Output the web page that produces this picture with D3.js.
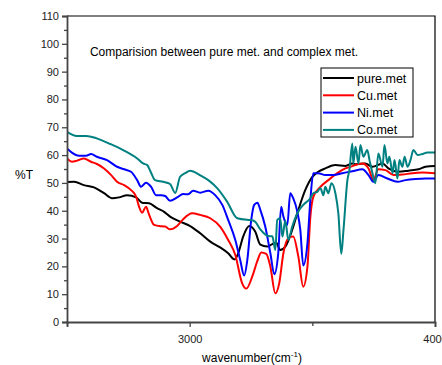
<!DOCTYPE html>
<html>
<head>
<meta charset="utf-8">
<script src="https://cdn.jsdelivr.net/npm/d3@7"></script>
<style>
  body { margin: 0; background: #fff; }
  svg { display: block; font-family: "Liberation Sans", Arial, sans-serif; }
</style>
</head>
<body>
<svg id="chart" width="442" height="365"></svg>
<script>
// wavenumber (cm-1) and %T, one pair of arrays per sample
var pureWn = [2500,2529,2569,2610,2651,2684,2712,2745,2782,2806,2835,2867,2896,2920,2961,3002,3043,3084,3124,3157,3182,3198,3218,3243,3267,3288,3316,3337,3353,3369,3390,3418,3443,3471,3500,3524,3553,3594,3635,3663,3676,3716,3745,3786,3810,3851,3892,3933,3961,4000];
var pureT  = [50.3,50.4,49.2,48.4,46.3,44.5,44.8,45.6,44.8,42.9,42.7,40.9,39.6,37.9,36.1,34.5,31.9,28.9,26.8,24.7,22.5,24.7,30.7,34.5,32.5,27.8,27.1,28.0,28.5,25.9,27.1,33.1,40.3,47.4,52.2,54.0,55.2,56.4,56.1,57.0,56.7,57.0,55.8,57.0,55.2,54.0,54.4,54.9,55.8,56.1];

var cuWn = [2500,2520,2541,2569,2598,2622,2651,2680,2704,2733,2761,2782,2794,2806,2822,2835,2855,2876,2900,2920,2949,2973,3010,3043,3084,3124,3157,3186,3214,3231,3255,3276,3292,3312,3329,3349,3365,3382,3402,3422,3443,3463,3480,3492,3504,3533,3565,3602,3635,3655,3704,3729,3749,3769,3798,3831,3867,3908,3949,4000];
var cuT  = [58.8,57.6,58.0,58.8,57.6,56.8,55.2,52.8,50.4,49.2,47.4,45.0,41.4,39.3,41.4,38.5,34.9,34.5,34.3,33.3,34.5,36.9,39.1,38.5,37.3,34.3,29.5,24.1,13.9,12.0,16.3,22.0,25.0,24.5,19.9,10.3,13.9,24.7,30.1,30.7,23.5,12.7,19.9,37.9,45.0,48.6,51.0,53.5,55.2,55.8,57.0,55.2,51.0,54.9,54.6,52.8,53.0,53.5,53.7,53.5];

var niWn = [2500,2520,2549,2578,2598,2622,2663,2704,2733,2761,2786,2802,2822,2843,2863,2884,2900,2920,2949,2973,2994,3014,3043,3076,3104,3133,3157,3186,3206,3222,3235,3251,3263,3276,3288,3308,3329,3345,3361,3373,3382,3398,3410,3422,3439,3451,3463,3480,3492,3504,3524,3553,3586,3622,3663,3704,3729,3749,3769,3806,3847,3880,3920,3961,4000];
var niT  = [62.4,60.9,59.8,59.8,60.4,59.4,58.2,55.8,54.9,54.0,51.0,48.6,50.1,48.6,45.6,45.6,45.3,43.6,44.8,46.0,45.9,47.2,46.5,47.2,45.6,42.1,36.7,29.5,22.3,16.7,22.3,36.7,42.1,42.9,40.3,34.3,24.7,17.2,24.7,41.4,37.9,34.9,46.3,44.5,39.6,33.1,20.3,28.3,43.9,53.5,53.5,52.8,52.8,53.5,54.2,54.9,52.8,50.4,52.8,51.6,50.4,51.0,51.4,51.6,51.6];

var coWn = [2500,2540,2578,2621,2676,2729,2786,2810,2827,2839,2859,2892,2920,2941,2961,2982,3002,3043,3076,3112,3153,3194,3239,3255,3267,3288,3320,3337,3349,3357,3369,3378,3390,3402,3418,3439,3463,3492,3504,3520,3533,3545,3553,3565,3578,3594,3606,3618,3627,3643,3651,3663,3667,3676,3688,3696,3708,3724,3733,3745,3757,3769,3786,3794,3806,3814,3827,3835,3847,3855,3867,3876,3888,3900,3912,3929,3949,3969,4000];
var coT  = [68.4,66.9,66.9,66.0,64.0,61.8,58.8,57.0,56.4,54.4,51.0,50.4,49.6,46.4,52.2,53.5,54.4,52.7,51.0,48.1,43.2,37.3,36.7,36.6,36.0,33.3,30.9,30.8,25.9,36.7,37.3,30.7,36.5,29.5,34.3,39.1,42.1,44.5,46.3,46.8,48.1,45.6,48.6,46.3,49.9,46.3,39.1,24.5,33.1,51.0,54.6,64.2,57.0,63.0,57.0,63.6,59.4,61.8,58.2,53.5,49.9,60.6,55.8,63.6,57.0,59.4,53.5,58.2,51.6,58.2,55.8,59.4,55.8,58.2,61.8,60.0,60.4,60.9,60.9];

var seriesNames = ["pure.met", "Cu.met", "Ni.met", "Co.met"];
var seriesColors = ["#000000", "#ff0000", "#0000ff", "#008080"];
var yTicks = [0,10,20,30,40,50,60,70,80,90,100,110];
var xMajorTicks = [3000, 4000];
var xMinorTicks = [2500, 3500];

var series = [
  { name: seriesNames[0], color: seriesColors[0], wn: pureWn, t: pureT },
  { name: seriesNames[1], color: seriesColors[1], wn: cuWn, t: cuT },
  { name: seriesNames[2], color: seriesColors[2], wn: niWn, t: niT },
  { name: seriesNames[3], color: seriesColors[3], wn: coWn, t: coT }
];

var plotL = 67, plotR = 435, plotT = 16, plotB = 322;

var svg = d3.select("#chart");

var x = d3.scaleLinear().domain([2500, 4000]).range([plotL, plotR]);
var y = d3.scaleLinear().domain([0, 110]).range([plotB, plotT]);

svg.append("clipPath").attr("id", "plotclip")
  .append("rect")
  .attr("x", plotL).attr("y", plotT)
  .attr("width", plotR - plotL).attr("height", plotB - plotT);

var line = d3.line()
  .x(function(d) { return x(d[0]); })
  .y(function(d) { return y(d[1]); })
  .curve(d3.curveMonotoneX);

var plot = svg.append("g").attr("clip-path", "url(#plotclip)");

series.forEach(function(s) {
  var pts = s.wn.map(function(w, i) { return [w, s.t[i]]; });
  plot.append("path")
    .datum(pts)
    .attr("fill", "none")
    .attr("stroke", s.color)
    .attr("stroke-width", 2)
    .attr("stroke-linejoin", "round")
    .attr("d", line);
});

// frame
svg.append("path")
  .attr("d", "M" + plotL + "," + plotT + "H" + plotR + "V" + plotB)
  .attr("fill", "none")
  .attr("stroke", "#000")
  .attr("stroke-width", 1.2);

// y axis
var yAxis = d3.axisLeft(y).tickValues(yTicks).tickSize(5).tickPadding(3);
var yMinor = d3.axisLeft(y).tickValues(yTicks.slice(0, -1).map(function(v) { return v + 5; }))
  .tickSize(3).tickFormat("");

var gy = svg.append("g").attr("transform", "translate(" + plotL + ",0)").call(yAxis);
var gyMinor = svg.append("g").attr("transform", "translate(" + plotL + ",0)").call(yMinor);

// x axis
var xAxis = d3.axisBottom(x).tickValues(xMajorTicks).tickSize(5).tickPadding(8).tickFormat(d3.format("d"));
var xMinor = d3.axisBottom(x).tickValues(xMinorTicks).tickSize(4).tickFormat("");

var gx = svg.append("g").attr("transform", "translate(0," + plotB + ")").call(xAxis);
var gxMinor = svg.append("g").attr("transform", "translate(0," + plotB + ")").call(xMinor);

[gy, gyMinor, gx, gxMinor].forEach(function(g) {
  g.select(".domain").attr("stroke", "#444").attr("stroke-width", 1.8);
  g.selectAll(".tick line").attr("stroke", "#444").attr("stroke-width", 1.3);
  g.selectAll(".tick text")
    .attr("fill", "#222")
    .style("font-size", "11px")
    .style("font-family", "Liberation Sans, Arial, sans-serif");
});
gyMinor.select(".domain").remove();
gxMinor.select(".domain").remove();

// axis titles
svg.append("text")
  .attr("x", 24).attr("y", 179)
  .attr("text-anchor", "middle")
  .style("font-size", "12px")
  .text("%T");

var xt = svg.append("text")
  .attr("x", 252).attr("y", 362)
  .attr("text-anchor", "middle")
  .style("font-size", "12px");
xt.append("tspan").text("wavenumber(cm");
xt.append("tspan").attr("dy", -5).style("font-size", "8px").text("-1");
xt.append("tspan").attr("dy", 5).text(")");

// title inside the plot
svg.append("text")
  .attr("x", 224).attr("y", 56)
  .attr("text-anchor", "middle")
  .style("font-size", "12px")
  .text("Comparision between pure met. and complex met.");

// legend
var legend = svg.append("g").attr("transform", "translate(321,68)");
legend.append("rect")
  .attr("width", 92).attr("height", 69)
  .attr("fill", "#fff")
  .attr("stroke", "#000")
  .attr("stroke-width", 1);

series.forEach(function(s, i) {
  var ly = 10 + i * 17.3;
  legend.append("line")
    .attr("x1", 2).attr("x2", 33)
    .attr("y1", ly).attr("y2", ly)
    .attr("stroke", s.color)
    .attr("stroke-width", 2);
  legend.append("text")
    .attr("x", 36).attr("y", ly + 4.5)
    .style("font-size", "12.5px")
    .text(s.name);
});
</script>
</body>
</html>
